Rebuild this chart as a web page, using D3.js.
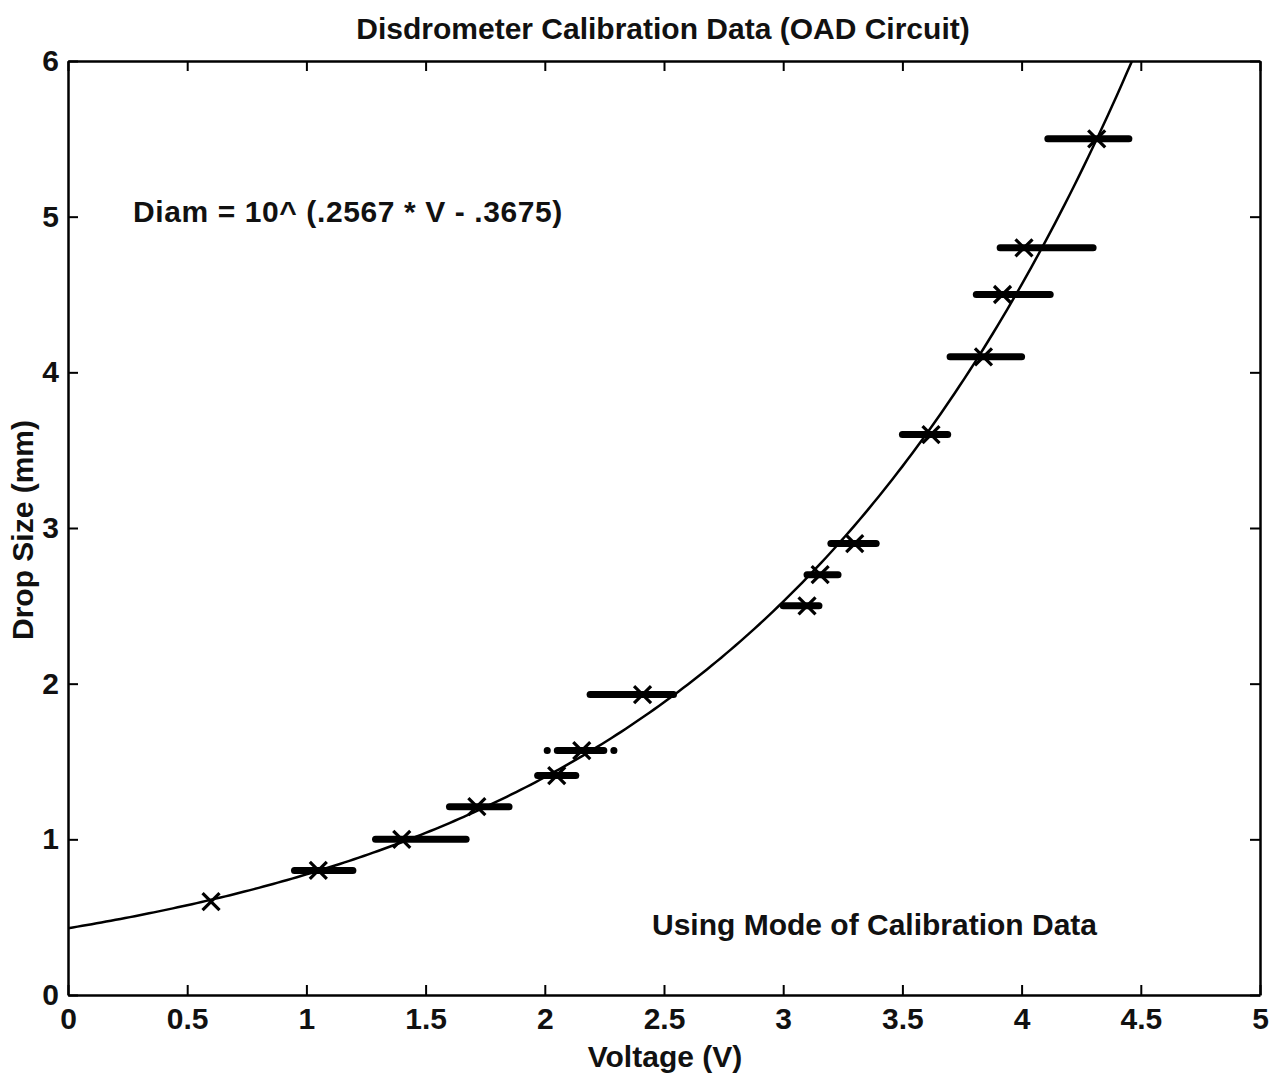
<!DOCTYPE html>
<html>
<head>
<meta charset="utf-8">
<script src="https://cdn.jsdelivr.net/npm/d3@7"></script>
<style>
  body { margin: 0; background: #fff; }
  text { font-family: "Liberation Sans", Arial, sans-serif; font-weight: bold; fill: #111; }
</style>
</head>
<body>
<svg id="chart" width="1283" height="1076"></svg>
<script>
// measured voltage (mode) and drop size
const voltage  = [0.60, 1.05, 1.40, 1.715, 2.05, 2.155, 2.41, 3.10, 3.155, 3.30, 3.62, 3.84, 3.92, 4.01, 4.315];
const dropSize = [0.60, 0.80, 1.00, 1.21, 1.41, 1.57, 1.93, 2.50, 2.70, 2.90, 3.60, 4.10, 4.50, 4.80, 5.50];
// spread of voltages (horizontal bars), null = no bar
const barLow   = [null, 0.95, 1.29, 1.60, 1.97, 2.01, 2.19, 3.00, 3.10, 3.20, 3.50, 3.70, 3.81, 3.91, 4.11];
const barHigh  = [null, 1.195, 1.67, 1.85, 2.13, 2.29, 2.54, 3.15, 3.23, 3.39, 3.69, 4.00, 4.12, 4.30, 4.45];
const dashedBar = [false, false, false, false, false, true, false, false, false, false, false, false, false, false, false];

// fit: Diam = 10^(a*V + b)
const fitA = 0.2567, fitB = -0.3675;

const xTicks = [0, 0.5, 1, 1.5, 2, 2.5, 3, 3.5, 4, 4.5, 5];
const yTicks = [0, 1, 2, 3, 4, 5, 6];

const margin = {top: 61, right: 23, bottom: 81, left: 68},
    width = 1283 - margin.left - margin.right,
    height = 1076 - margin.top - margin.bottom;

const svg = d3.select("#chart");
const g = svg.append("g").attr("transform", `translate(${margin.left},${margin.top})`);

const x = d3.scaleLinear().domain([0, 5]).range([0, width]);
const y = d3.scaleLinear().domain([0, 6]).range([height, 0]);

// axes with inward ticks on all four sides
const tickLen = 10;
g.append("g").attr("transform", `translate(0,${height})`)
    .call(d3.axisBottom(x).tickValues(xTicks).tickSizeInner(-tickLen).tickSizeOuter(0)
        .tickFormat(d3.format("")).tickPadding(13));
g.append("g")
    .call(d3.axisLeft(y).tickValues(yTicks).tickSizeInner(-tickLen).tickSizeOuter(0)
        .tickFormat(d3.format("")).tickPadding(9));
g.append("g")
    .call(d3.axisTop(x).tickValues(xTicks).tickSizeInner(-tickLen).tickSizeOuter(0).tickFormat(""));
g.append("g").attr("transform", `translate(${width},0)`)
    .call(d3.axisRight(y).tickValues(yTicks).tickSizeInner(-tickLen).tickSizeOuter(0).tickFormat(""));

g.selectAll(".domain").attr("stroke", "#000").attr("stroke-width", 2.5);
g.selectAll(".tick line").attr("stroke", "#000").attr("stroke-width", 2);
g.selectAll(".tick text")
    .style("font-size", "30px")
    .style("font-family", "'Liberation Sans', Arial, sans-serif")
    .style("font-weight", "bold")
    .attr("fill", "#111");

// fit curve, clipped to the axes
g.append("clipPath").attr("id", "clip")
    .append("rect").attr("width", width).attr("height", height);
const curveV = d3.range(0, 4.5, 0.02);
const line = d3.line()
    .x(v => x(v))
    .y(v => y(Math.pow(10, fitA * v + fitB)));
g.append("path")
    .datum(curveV)
    .attr("clip-path", "url(#clip)")
    .attr("fill", "none")
    .attr("stroke", "#000")
    .attr("stroke-width", 2.5)
    .attr("d", line);

// horizontal spread bars
const idx = d3.range(voltage.length).filter(i => barLow[i] !== null);
const gap = 10;
g.selectAll(".bar")
    .data(idx)
    .enter()
    .append("line")
    .attr("class", "bar")
    .attr("x1", i => x(barLow[i]))
    .attr("x2", i => x(barHigh[i]))
    .attr("y1", i => y(dropSize[i]))
    .attr("y2", i => y(dropSize[i]))
    .attr("stroke", "#000")
    .attr("stroke-width", 7)
    .attr("stroke-linecap", "round")
    .attr("stroke-dasharray", i => {
        if (!dashedBar[i]) return null;
        const len = x(barHigh[i]) - x(barLow[i]);
        // dot, gap, dash, gap, dot
        return `0.1 ${gap} ${len - 2 * gap - 0.2} ${gap} 0.1 1000`;
    });

// x markers
const ms = 8.5;
g.selectAll(".mark")
    .data(d3.range(voltage.length))
    .enter()
    .append("path")
    .attr("class", "mark")
    .attr("d", i => {
        const cx = x(voltage[i]), cy = y(dropSize[i]);
        return `M${cx - ms},${cy - ms}L${cx + ms},${cy + ms}M${cx - ms},${cy + ms}L${cx + ms},${cy - ms}`;
    })
    .attr("stroke", "#000")
    .attr("stroke-width", 3.2);

// texts
svg.append("text")
    .attr("x", 663).attr("y", 39)
    .attr("text-anchor", "middle")
    .style("font-size", "30px")
    .text("Disdrometer Calibration Data (OAD Circuit)");
svg.append("text")
    .attr("x", 665).attr("y", 1067)
    .attr("text-anchor", "middle")
    .style("font-size", "30px")
    .text("Voltage (V)");
svg.append("text")
    .attr("transform", "translate(33,530) rotate(-90)")
    .attr("text-anchor", "middle")
    .style("font-size", "30px")
    .text("Drop Size (mm)");
svg.append("text")
    .attr("x", 133).attr("y", 222)
    .style("font-size", "30px")
    .style("letter-spacing", "0.6px")
    .text("Diam = 10^ (.2567 * V - .3675)");
svg.append("text")
    .attr("x", 652).attr("y", 935)
    .style("font-size", "30px")
    .text("Using Mode of Calibration Data");
</script>
</body>
</html>
